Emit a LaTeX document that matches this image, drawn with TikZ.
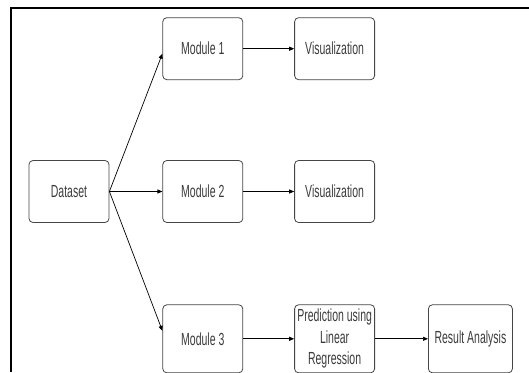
\documentclass[tikz,border=0pt]{standalone}
\usepackage{fontspec}
\setmainfont{Liberation Sans}[FakeStretch=0.6]
\usetikzlibrary{arrows.meta,positioning}
\definecolor{BoxGray}{RGB}{70,70,70}
\definecolor{TextGray}{RGB}{60,60,60}
\tikzset{
  stage/.style={draw=BoxGray,rounded corners=4pt,line width=0.8pt,fill=white,
    minimum width=80pt,minimum height=62pt,inner sep=1pt,align=center,
    text=TextGray,font=\fontsize{17.5}{21.5}\selectfont},
  tall/.style={minimum height=68pt},
  arrow/.style={-{Triangle[length=5pt,width=4pt]},line width=0.7pt,black}
}

\begin{document}
\begin{tikzpicture}[node distance=52pt]
      \useasboundingbox (0,0) rectangle (529pt,-372pt);
      \draw[line width=2pt] (11pt,-372pt) -- (11pt,-7.5pt) -- (529pt,-7.5pt);
      \node[stage] (dataset) at (69pt,-191.5pt) {Dataset};
      \node[stage,right=53pt of dataset] (mod2) {Module 2};
      \node[stage,above=80pt of mod2] (mod1) {Module 1};
      \node[stage,tall,below=81.5pt of mod2] (mod3) {Module 3};
      \node[stage,right=51pt of mod1] (vis1) {Visualization};
      \node[stage,right=51pt of mod2] (vis2) {Visualization};
      \node[stage,tall,right=51pt of mod3] (pred) {Prediction using\\Linear\\Regression};
      \node[stage,tall,right=53pt of pred,minimum width=84pt] (result) {Result Analysis};
      \draw[arrow] (dataset.east) -- ([yshift=-5pt]mod1.west);
      \draw[arrow] (dataset.east) -- (mod2.west);
      \draw[arrow] (dataset.east) -- ([yshift=8pt]mod3.west);
      \draw[arrow] (mod1) -- (vis1);
      \draw[arrow] (mod2) -- (vis2);
      \draw[arrow] (mod3) -- (pred);
      \draw[arrow] (pred) -- (result);
    \end{tikzpicture}
\end{document}
